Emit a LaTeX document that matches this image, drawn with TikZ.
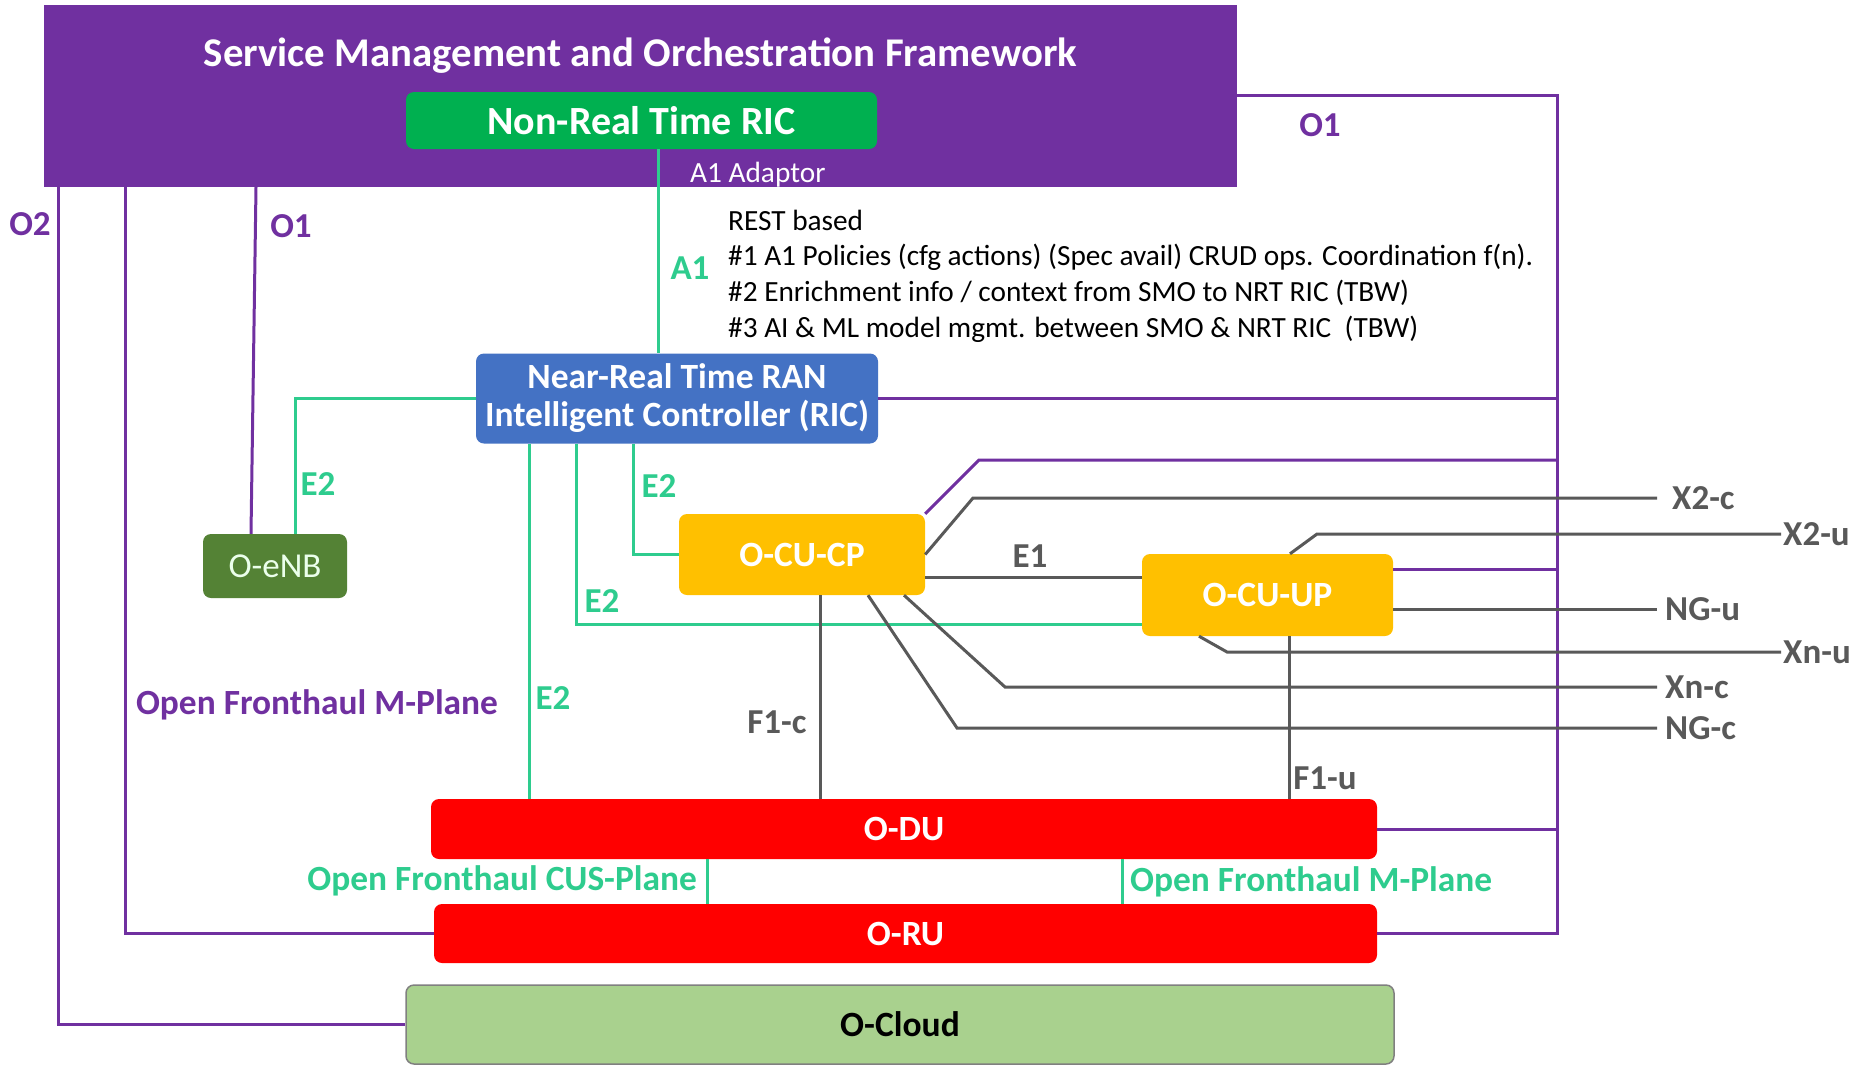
\documentclass[tikz,border=0pt]{standalone}
\usepackage{fontspec}
\setmainfont{Carlito}

\definecolor{smopurple}{HTML}{7030A0}
\definecolor{nrtgreen}{HTML}{00B050}
\definecolor{ricblue}{HTML}{4472C4}
\definecolor{enbgreen}{HTML}{548235}
\definecolor{cuyellow}{HTML}{FFC000}
\definecolor{cloudgreen}{HTML}{A9D18E}
\definecolor{e2green}{HTML}{2ECC8E}
\definecolor{ifgray}{HTML}{595959}

\tikzset{
	unit/.style={rounded corners=8pt, inner sep=0pt, text=white, font=\fontsize{35.5}{38}\selectfont\bfseries},
	pline/.style={draw=smopurple, line width=3pt},
	gline/.style={draw=e2green, line width=3pt},
	kline/.style={draw=ifgray, line width=3pt},
	iflab/.style={inner sep=0pt, font=\fontsize{35}{38}\selectfont\bfseries},
	gwlab/.style={anchor=west, inner ysep=0pt, inner xsep=8pt, text=ifgray, font=\fontsize{35}{38}\selectfont\bfseries},
	notes/.style={inner sep=0pt, text=black, font=\fontsize{29.3}{35.7}\selectfont}
}

\begin{document}
\begin{tikzpicture}[x=1pt,y=-1pt]
		\def\xo{1557}
		\def\xr{1657}
		\def\xrr{1781}
		\useasboundingbox[fill=white] (0,0) rectangle (1865,1066);

		\node[fill=smopurple, minimum width=1193pt, minimum height=182pt, inner sep=0pt] (smo) at (640.5,96) {};
		\node[unit, font=\fontsize{40.8}{44}\selectfont\bfseries] (smotitle) at (640.5,55.5) {Service Management and Orchestration Framework};
		\node[unit, fill=nrtgreen, minimum width=471pt, minimum height=57pt, font=\fontsize{40}{44}\selectfont\bfseries] (nrt) at (641.5,120.5) {Non-Real Time RIC};
		\node[notes, text=white, anchor=west] (adaptor) at (690,174.5) {A1 Adaptor};
		\node[unit, fill=ricblue, minimum width=402pt, minimum height=90pt, align=center] (ric) at (677,398.5) {Near-Real Time RAN\\Intelligent Controller (RIC)};
		\node[unit, fill=enbgreen, minimum width=144pt, minimum height=64pt, font=\fontsize{35}{38}\selectfont, text=green!8] (enb) at (275,566) {O-eNB};
		\node[unit, fill=cuyellow, minimum width=246pt, minimum height=81pt] (cucp) at (802,554.5) {O-CU-CP};
		\node[unit, fill=cuyellow, minimum width=251pt, minimum height=82pt] (cuup) at (1267.5,595) {O-CU-UP};
		\node[unit, fill=red, minimum width=946pt, minimum height=60pt] (odu) at (904,829) {O-DU};
		\node[unit, fill=red, minimum width=943pt, minimum height=59pt] (oru) at (905.5,933.5) {O-RU};
		\node[unit, fill=cloudgreen, draw=gray, line width=1.5pt, minimum width=988pt, minimum height=79pt, text=black] (cloud) at (900,1024.5) {O-Cloud};

		\node[notes, anchor=west, align=left] (a1notes) at (728,276) {REST based\\\#1 A1 Policies (cfg actions) (Spec avail) CRUD ops. Coordination f(n).\\\#2 Enrichment info / context from SMO to NRT RIC (TBW)\\\#3 AI \& ML model mgmt. between SMO \& NRT RIC\ \ (TBW)};

		\draw[pline] (58,0 |- smo.south) |- (cloud.west);
		\draw[pline] (125,0 |- smo.south) |- (oru.west);
		\draw[pline] (256,0 |- smo.south) -- (251,0 |- enb.north);
		\coordinate (o1r) at (\xo,95);
		\draw[pline] (smo.east |- o1r) -- (o1r) |- (oru.east);
		\draw[pline] (ric.east) -- (ric.east -| o1r);
		\draw[pline] (cucp.north east) -- (979,460) -- (o1r |- 0,460);
		\draw[pline] (cuup.east |- 0,569) -- (o1r |- 0,569);
		\draw[pline] (odu.east) -- (odu.east -| o1r);

		\draw[gline] (658,0 |- nrt.south) -- (658,0 |- ric.north);
		\draw[gline] (ric.west) -| (295,0 |- enb.north);
		\draw[gline] (529,0 |- ric.south) -- (529,0 |- odu.north);
		\draw[gline] (576,0 |- ric.south) |- (cuup.west |- 0,624);
		\draw[gline] (633,0 |- ric.south) |- (cucp.west);
		\foreach \x in {707,1122}
		{
			\draw[gline] (\x,0 |- odu.south) -- (\x,0 |- oru.north);
		}

		\node[gwlab, inner xsep=15pt] (x2c) at (\xr,498) {X2-c};
		\node[gwlab, inner xsep=2pt] (x2u) at (\xrr,534) {X2-u};
		\node[gwlab] (ngu) at (\xr,609) {NG-u};
		\node[gwlab, inner xsep=2pt] (xnu) at (\xrr,652) {Xn-u};
		\node[gwlab] (xnc) at (\xr,687) {Xn-c};
		\node[gwlab] (ngc) at (\xr,728) {NG-c};

		\draw[kline] (cucp.east) -- (973,498) -- (x2c.west);
		\draw[kline] (cucp.east |- 0,577) -- (cuup.west |- 0,577);
		\draw[kline] (1290,0 |- cuup.north) -- (1317,534) -- (x2u.west);
		\draw[kline] (cuup.east |- ngu.west) -- (ngu.west);
		\draw[kline] (1199,0 |- cuup.south) -- (1227,652) -- (xnu.west);
		\draw[kline] (904,0 |- cucp.south) -- (1005,687) -- (xnc.west);
		\draw[kline] (868,0 |- cucp.south) -- (957,728) -- (ngc.west);
		\draw[kline] (820,0 |- cucp.south) -- (820,0 |- odu.north);
		\draw[kline] (1289,0 |- cuup.south) -- (1289,0 |- odu.north);

		\node[iflab, text=smopurple] (o2) at (30,224) {O2};
		\node[iflab, text=smopurple] (o1l) at (291,226) {O1};
		\node[iflab, text=smopurple] (o1r lab) at (1320,125) {O1};
		\node[iflab, text=e2green] (a1) at (690,268) {A1};
		\node[iflab, text=e2green] (e2enb) at (318,484) {E2};
		\node[iflab, text=e2green] (e2cp) at (659,486) {E2};
		\node[iflab, text=e2green] (e2up) at (602,601) {E2};
		\node[iflab, text=e2green] (e2du) at (553,698) {E2};
		\node[iflab, text=ifgray] (e1) at (1030,556) {E1};
		\node[iflab, text=ifgray] (f1c) at (777,722) {F1-c};
		\node[iflab, text=ifgray] (f1u) at (1325,778) {F1-u};
		\node[iflab, text=smopurple, font=\fontsize{35.4}{38}\selectfont\bfseries] (mplane) at (317,705) {Open Fronthaul M-Plane};
		\node[iflab, text=e2green, anchor=east, font=\fontsize{35.4}{38}\selectfont\bfseries] (cusplane) at (697,881) {Open Fronthaul CUS-Plane};
		\node[iflab, text=e2green, anchor=west, font=\fontsize{35.4}{38}\selectfont\bfseries] (mplanedu) at (1130,882) {Open Fronthaul M-Plane};
	\end{tikzpicture}
\end{document}
